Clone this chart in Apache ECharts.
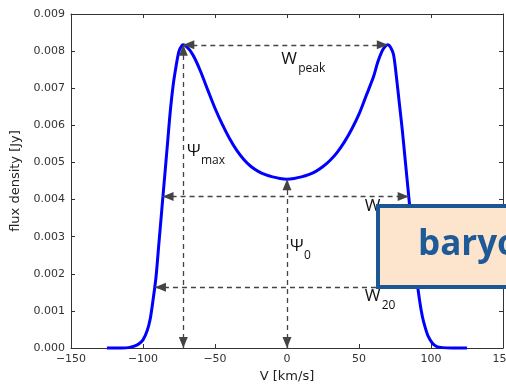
<!DOCTYPE html>
<html>
<head>
<meta charset="utf-8">
<script src="https://cdn.jsdelivr.net/npm/echarts@6/dist/echarts.min.js"></script>
<style>
  html, body { margin: 0; padding: 0; background: #fff; }
  #chart { width: 506px; height: 384px; }
</style>
</head>
<body>
<div id="chart"></div>
<script>
// double-horned HI profile
const velocity = [-125, -115, -110, -106, -103, -100, -97, -95, -93, -91, -89, -87, -85, -83, -81, -79, -77, -75, -73, -72, -70, -67, -64, -60, -55, -50, -45, -40, -35, -30, -25, -20, -15, -10, -5, 0,
  5, 10, 15, 20, 25, 30, 35, 40, 45, 50, 55, 60, 63, 66, 68, 70, 72, 74, 76, 78, 80, 82, 84, 86, 88, 90, 92, 94, 96, 98, 101, 104, 108, 115, 125]
const flux = [0, 0, 0.00001, 0.00005, 0.00011, 0.00022, 0.00048, 0.00078, 0.0013, 0.0019, 0.0028, 0.0037, 0.0046, 0.0055, 0.0064, 0.0071, 0.0076, 0.0080, 0.00815, 0.00817, 0.00813, 0.0080, 0.0078, 0.00745, 0.00695, 0.00646, 0.00603, 0.00565, 0.00533, 0.00508, 0.00489, 0.00476, 0.00467, 0.00461, 0.00457, 0.00455,
  0.00457, 0.00461, 0.00467, 0.00476, 0.00489, 0.00506, 0.00528, 0.00556, 0.0059, 0.0063, 0.0068, 0.0073, 0.0077, 0.0080, 0.00812, 0.00817, 0.0081, 0.0079, 0.0073, 0.0066, 0.0059, 0.0051, 0.0043, 0.0035, 0.0027, 0.0019, 0.0013, 0.00085, 0.00055, 0.00032, 0.00013, 0.00004, 0.00001, 0, 0]

// axis ranges / ticks
const xRange = [-150, 150]
const xStep = 50
const yRange = [0, 0.009]
const yStep = 0.001

// widths marked on the profile
const peakFlux = 0.00817
const minFlux = 0.00455
const peakV = [-72, 70]
const w50V = [-86.4, 84.5]
const w20V = [-91.7, 90.5]

// annotation texts (anchor = bottom-left of the big letter, in data units)
const notes = [
  { main: 'W', sub: 'peak', v: -4, f: 0.00755 },
  { main: 'Ψ', sub: 'max', v: -69.5, f: 0.00508 },
  { main: 'Ψ', sub: '0', v: 2, f: 0.00252 },
  { main: 'W', sub: '50', v: 54, f: 0.0036 },
  { main: 'W', sub: '20', v: 54, f: 0.00117 }
]

const chart = echarts.init(document.getElementById('chart'))

const axisText = { fontFamily: 'DejaVu Sans', fontSize: 11, color: '#333' }
const frame = { show: true, onZero: false, lineStyle: { color: '#333', width: 1 } }
const tick = { show: true, inside: true, length: 4, lineStyle: { color: '#333' } }

const arrowLines = [
  [{ coord: [peakV[0], peakFlux] }, { coord: [peakV[1], peakFlux] }],
  [{ coord: [peakV[0], 0] }, { coord: [peakV[0], peakFlux] }],
  [{ coord: [0, 0] }, { coord: [0, minFlux] }],
  [{ coord: [w50V[0], 0.5 * peakFlux] }, { coord: [w50V[1], 0.5 * peakFlux] }],
  // right end of this one sits under the box
  [{ coord: [w20V[0], 0.2 * peakFlux] }, { coord: [w20V[1], 0.2 * peakFlux], symbol: 'none' }]
]

const option = {
  animation: false,
  grid: { left: 71, right: 3, top: 14, bottom: 36, outerBoundsMode: 'none' },
  xAxis: [
    {
      type: 'value',
      min: xRange[0],
      max: xRange[1],
      interval: xStep,
      name: 'V [km/s]',
      nameLocation: 'middle',
      nameGap: 21,
      nameTextStyle: { fontFamily: 'DejaVu Sans', fontSize: 13, color: '#222' },
      axisLine: frame,
      axisTick: tick,
      splitLine: { show: false },
      axisLabel: Object.assign({ margin: 6, formatter: (v) => String(v).replace('-', '\u2212') }, axisText)
    },
    {
      type: 'value', position: 'top', min: xRange[0], max: xRange[1], interval: xStep,
      axisLine: frame, axisTick: tick, splitLine: { show: false }, axisLabel: { show: false }
    }
  ],
  yAxis: [
    {
      type: 'value',
      min: yRange[0],
      max: yRange[1],
      interval: yStep,
      name: 'flux density [Jy]',
      nameLocation: 'middle',
      nameGap: 46,
      nameTextStyle: { fontFamily: 'DejaVu Sans', fontSize: 13, color: '#222' },
      axisLine: frame,
      axisTick: tick,
      splitLine: { show: false },
      axisLabel: Object.assign({ margin: 6, formatter: (v) => v.toFixed(3) }, axisText)
    },
    {
      type: 'value', position: 'right', min: yRange[0], max: yRange[1], interval: yStep,
      axisLine: frame, axisTick: tick, splitLine: { show: false }, axisLabel: { show: false }
    }
  ],
  series: [
    {
      type: 'line',
      data: velocity.map((v, i) => [v, flux[i]]),
      smooth: 0.3,
      showSymbol: false,
      clip: false,
      z: 3,
      lineStyle: { color: '#0000ff', width: 3 },
      markLine: {
        silent: true,
        symbol: ['triangle', 'triangle'],
        symbolSize: [9, 11],
        symbolOffset: [[0, 5.5], [0, 5.5]],
        label: { show: false },
        lineStyle: { color: '#444', width: 1.3, type: [5, 4] },
        itemStyle: { color: '#333' },
        data: arrowLines
      }
    }
  ]
}
chart.setOption(option)

// texts and the pasted box
const graphics = []
notes.forEach((n) => {
  const p = chart.convertToPixel({ gridIndex: 0 }, [n.v, n.f])
  graphics.push({
    type: 'text', x: p[0], y: p[1], z: 50,
    style: { text: n.main, font: '17px "Open Sans"', fill: '#111', align: 'left', verticalAlign: 'bottom' }
  })
  graphics.push({
    type: 'text', x: p[0] + (n.main === 'W' ? 17 : 14), y: p[1] + 7, z: 50,
    style: { text: n.sub, font: '12px "Open Sans"', fill: '#111', align: 'left', verticalAlign: 'bottom' }
  })
})
graphics.push({
  type: 'rect', z: 100,
  shape: { x: 378, y: 206, width: 150, height: 81 },
  style: { fill: '#fce4cd', stroke: '#1b5795', lineWidth: 4 }
})
graphics.push({
  type: 'text', x: 418, y: 245, z: 101,
  style: { text: 'baryonic', font: 'bold 35px "Open Sans"', fill: '#1d5a97', align: 'left', verticalAlign: 'middle' }
})
chart.setOption({ graphic: graphics })
</script>
</body>
</html>
